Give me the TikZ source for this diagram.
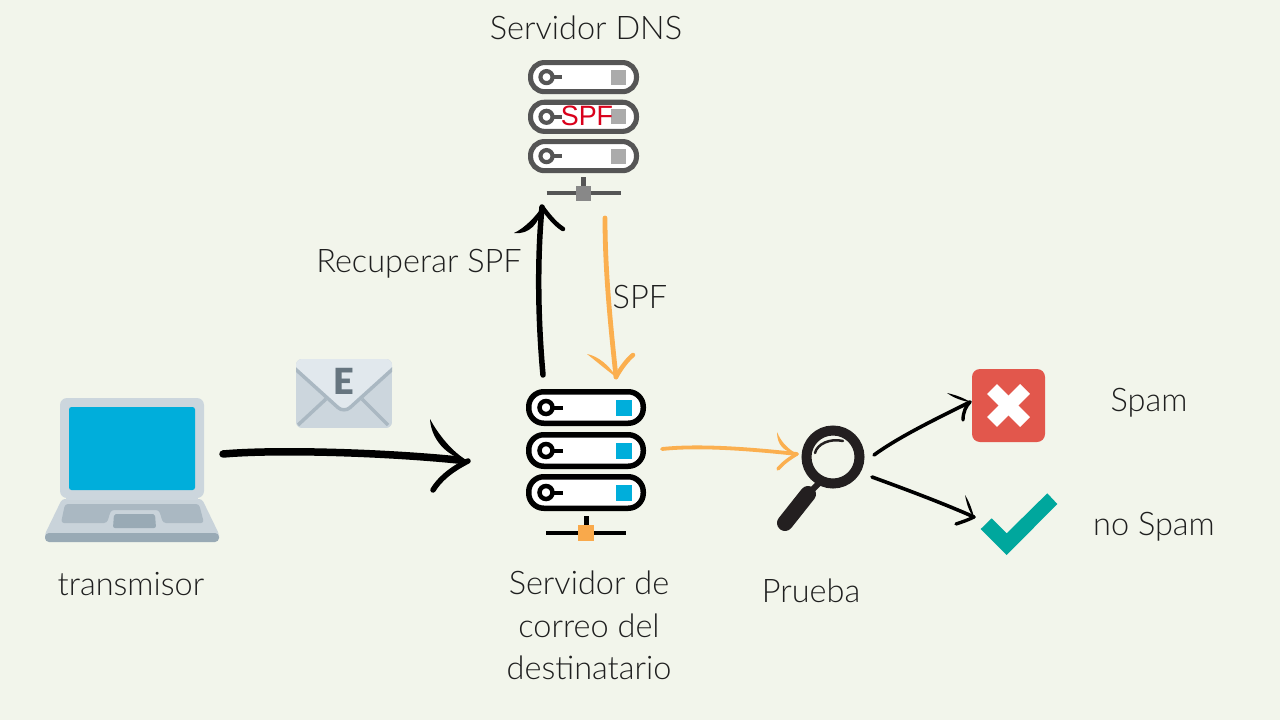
\documentclass[tikz,border=0pt]{standalone}
\usepackage{fontspec}
\setmainfont{Lato Light}[BoldFont=Lato Black]
\newfontfamily\arialf{Liberation Sans}
\definecolor{bg}{HTML}{F2F5EB}
\definecolor{srvdark}{HTML}{555555}
\definecolor{srvgrey}{HTML}{ABABAB}
\definecolor{srvstem}{HTML}{888888}
\definecolor{srvblue}{HTML}{00AEDB}
\definecolor{orangeline}{HTML}{FBAF4F}
\definecolor{orangesq}{HTML}{F9A94B}
\definecolor{lapbody}{HTML}{CCD6DD}
\definecolor{lapbase}{HTML}{C9D3DA}
\definecolor{lapkeys}{HTML}{AAB8C2}
\definecolor{lapdark}{HTML}{99AAB5}
\definecolor{envflap}{HTML}{E1E8ED}
\definecolor{enve}{HTML}{66757F}
\definecolor{ink}{HTML}{231F20}
\definecolor{xred}{HTML}{E2574C}
\definecolor{okteal}{HTML}{00A79D}
\definecolor{spfred}{HTML}{D9001B}
\usetikzlibrary{calc}
\tikzset{
  lbl/.style={font=\fontsize{32.5}{32.5}\selectfont,text=black!88,inner sep=0pt,anchor=base},
  brush/.style={draw=black,line cap=round,line join=round,fill=none},
  orangebrush/.style={draw=orangeline,line cap=round,line join=round,fill=none},
}
\newcommand{\serverrowicon}[5]{%
  \begin{scope}[shift={(#1,#2)}]
    \draw[draw=#3,fill=white,line width=#5*5.5,rounded corners=#5*15] (#5*2.75,#5*2.75) rectangle (#5*117.25,#5*34.25);
    \draw[draw=#3,line width=#5*4.5,fill=white] (#5*20,#5*18.5) circle (#5*6.5);
    \draw[draw=#3,line width=#5*4] (#5*26,#5*18.5) -- (#5*37,#5*18.5);
    \fill[#4] (#5*90,#5*10.5) rectangle (#5*106,#5*26.5);
  \end{scope}}
\newcommand{\serverfoot}[5]{%
  \begin{scope}[shift={(#1,#2)}]
    \draw[draw=#3,line width=#5*5] (#5*60,#5*127) -- (#5*60,#5*141);
    \draw[draw=#3,line width=#5*4.5] (#5*20,#5*144) -- (#5*100,#5*144);
    \fill[#4] (#5*52,#5*136) rectangle (#5*68,#5*152);
  \end{scope}}
% colour, start, control 1, control 2, tip, offset of the return side
\newcommand{\taperhead}[6]{%
  \fill[#1] #2 .. controls #3 and #4 .. #5 .. controls ($#4+#6$) and ($#3+#6$) .. cycle;}
\begin{document}
\begin{tikzpicture}[x=1pt,y=-1pt]
\useasboundingbox (0,0) rectangle (1280,720);
\fill[bg] (0,0) rectangle (1280,720);

% DNS server
\serverrowicon{528}{60}{srvdark}{srvgrey}{0.925}
\serverrowicon{528}{99.7}{srvdark}{srvgrey}{0.925}
\serverrowicon{528}{139}{srvdark}{srvgrey}{0.925}
\serverfoot{528}{60}{srvdark}{srvstem}{0.925}
\node[font=\arialf\fontsize{28}{28}\selectfont,text=spfred,inner sep=0pt,xscale=.96] (spf) at (587,115.5) {SPF};
\coordinate (dnsOut) at (605,218);
\coordinate (dnsIn) at (542,207);

% Receiving server
\serverrowicon{526}{389}{black}{srvblue}{1}
\serverrowicon{526}{432}{black}{srvblue}{1}
\serverrowicon{526}{474}{black}{srvblue}{1}
\serverfoot{526}{389}{black}{orangesq}{1}
\coordinate (srvTop) at (543,375);
\coordinate (srvIn) at (616,377);
\coordinate (srvLeft) at (468,461);
\coordinate (srvRight) at (662,449);

% Laptop
\fill[lapbase,rounded corners=3] (62,499) -- (202,499) -- (219,534) -- (219,538) -- (45,538) -- (45,534) -- cycle;
\fill[lapbody,rounded corners=7] (60,398) rectangle (204,498);
\fill[lapbody] (66,490) rectangle (198,500);
\fill[srvblue,rounded corners=2.5] (69,407) rectangle (195,490);
\fill[lapkeys,rounded corners=3] (65,504) -- (199,504) -- (204,523) -- (163,523) -- (159,510) -- (111,510) -- (107,523) -- (61,523) -- cycle;
\fill[lapdark,rounded corners=2] (114,514) -- (155,514) -- (156,528) -- (113,528) -- cycle;
\fill[lapdark,rounded corners=4] (45,533) rectangle (219,542);
\coordinate (lapOut) at (223,454);

% Envelope
\begin{scope}
\clip[rounded corners=6] (296,359) rectangle (392,428);
\fill[lapbody] (296,359) rectangle (392,428);
\draw[lapkeys,line width=3.5] (298,425) -- (326,399);
\draw[lapkeys,line width=3.5] (388,425) -- (362,399);
\fill[envflap] (292,359) -- (396,359) -- (396,366) -- (344,412) -- (292,366) -- cycle;
\draw[lapkeys,line width=3.5,rounded corners=8] (292,366) -- (344,413) -- (396,366);
\end{scope}
\node[font=\bfseries\fontsize{36}{36}\selectfont,text=enve,inner sep=0pt] (mailE) at (344,381) {E};

% Magnifier
\draw[ink,line width=10] (833,457) circle (26.5);
\draw[ink,line width=6] (820,482) -- (811,491);
\draw[ink,line width=16,line cap=round] (808,494) -- (785,523);
\draw[ink,line width=2.5,line cap=round] (815,453) .. controls (817,444) and (830,438) .. (843,441);
\coordinate (lensIn) at (797,454);
\coordinate (lensUp) at (874,455);
\coordinate (lensDown) at (872,477);

% Spam cross
\fill[xred,rounded corners=8] (972,369) rectangle (1045,442);
\draw[white,line width=14] (992,389) -- (1025,422);
\draw[white,line width=14] (1025,389) -- (992,422);
\coordinate (xIn) at (970,402);

% Check
\fill[okteal] (980.7,529) -- (991.7,518.3) -- (1006.7,533.3) -- (1047.3,493.3) -- (1057.3,504) -- (1006.7,555) -- cycle;
\coordinate (okIn) at (974,517);

% Connectors
\draw[brush,line width=7.5] (lapOut) .. controls (280,449) and (390,453) .. (458,460);
\draw[brush,line width=3] (458,460) -- (srvLeft);
\taperhead{black}{(430,419)}{(438,434)}{(452,452)}{(srvLeft)}{(-7,4)}
\draw[brush,line width=5.5] (433,490) .. controls (439,480) and (450,470) .. (srvLeft);

\draw[brush,line width=5.5] (srvTop) .. controls (538,320) and (537,260) .. (dnsIn);
\taperhead{black}{(514,233)}{(525,228)}{(536,216)}{(dnsIn)}{(4,7)}
\draw[brush,line width=4.5] (563,229) .. controls (555,224) and (548,215) .. (dnsIn);

\draw[orangebrush,line width=4.8] (dnsOut) .. controls (605,270) and (610,320) .. (srvIn);
\taperhead{orangeline}{(587,354)}{(598,356)}{(610,366)}{(srvIn)}{(-1,6)}
\draw[orangebrush,line width=4.5] (633,355) .. controls (627,360) and (621,368) .. (srvIn);

\draw[orangebrush,line width=3.8] (srvRight) .. controls (700,445) and (750,449) .. (lensIn);
\taperhead{orangeline}{(777,432)}{(781,442)}{(788,449)}{(lensIn)}{(-4,3)}
\draw[orangebrush,line width=3.5] (778,469) .. controls (783,463) and (790,458) .. (lensIn);

\draw[brush,line width=3.6] (lensUp) .. controls (900,436) and (940,417) .. (xIn);
\taperhead{black}{(947,393)}{(956,395)}{(964,398)}{(xIn)}{(-2,3)}
\draw[brush,line width=3.4] (963,420) .. controls (963,412) and (966,406) .. (xIn);

\draw[brush,line width=3.6] (lensDown) .. controls (905,489) and (945,504) .. (okIn);
\taperhead{black}{(965,495)}{(970,503)}{(972,510)}{(okIn)}{(-3,2)}
\draw[brush,line width=3.4] (956,524) .. controls (962,522) and (968,520) .. (okIn);

% Labels
\node[lbl] (tDns) at (586,39) {Servidor DNS};
\node[lbl] (tRec) at (419,272) {Recuperar SPF};
\node[lbl] (tSpf) at (640,308) {SPF};
\node[lbl] (tTrans) at (131,595) {transmisor};
\node[lbl] (tSrv1) at (589,594) {Servidor de};
\node[lbl] (tSrv2) at (589,637) {correo del};
\node[lbl] (tSrv3) at (589,679) {destinatario};
\node[lbl] (tPru) at (811,602) {Prueba};
\node[lbl] (tSpam) at (1149,411) {Spam};
\node[lbl] (tNo) at (1154,535) {no Spam};
\end{tikzpicture}
\end{document}
